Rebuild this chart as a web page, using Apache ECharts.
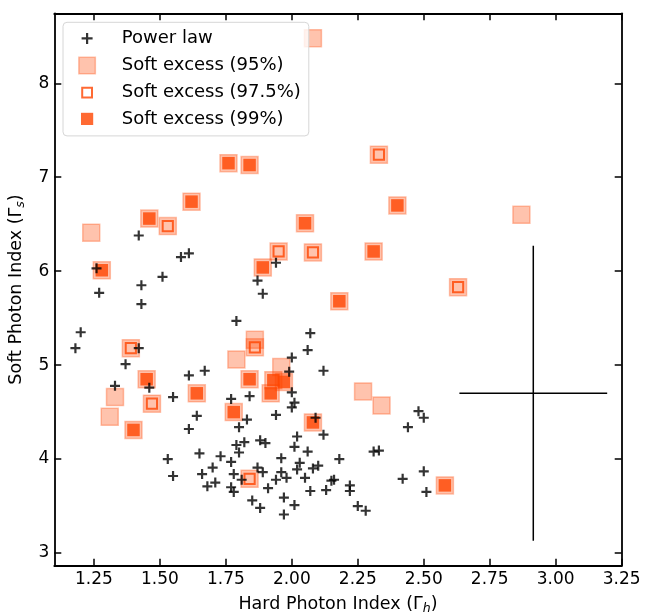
<!DOCTYPE html>
<html>
<head>
<meta charset="utf-8">
<script src="https://cdn.jsdelivr.net/npm/echarts@6/dist/echarts.min.js"></script>
<style>
html,body{margin:0;padding:0;background:#fff;}
#chart{width:654px;height:614px;}
</style>
</head>
<body>
<div id="chart"></div>
<script>
// ---- data ----
const xTickValues = [1.25, 1.50, 1.75, 2.00, 2.25, 2.50, 2.75, 3.00, 3.25];
const yTickValues = [3, 4, 5, 6, 7, 8];

// Power law fits [hard index, soft index]
const powerLaw = [
  [1.42,6.38],[1.26,6.03],[1.27,5.77],[1.58,6.15],[1.61,6.19],[1.51,5.94],[1.43,5.85],[1.43,5.65],
  [1.79,5.47],[1.87,5.90],[1.89,5.76],[1.94,6.09],[1.20,5.35],[1.18,5.18],[1.42,5.18],[1.37,5.01],
  [1.33,4.78],[1.46,4.76],[1.55,4.66],[1.61,4.89],[1.67,4.94],[1.77,4.64],[1.84,4.67],[1.83,4.42],
  [1.80,4.34],[1.64,4.46],[1.61,4.32],[1.88,4.20],[1.90,4.17],[1.82,4.18],[1.79,4.15],[1.80,4.07],
  [1.77,3.97],[1.73,4.03],[1.70,3.91],[1.66,3.84],[1.68,3.71],[1.71,3.75],[1.78,3.84],[1.77,3.70],
  [1.78,3.65],[1.81,3.78],[1.87,3.91],[1.89,3.86],[1.85,3.56],[1.88,3.48],[1.53,4.00],[1.55,3.82],
  [1.65,4.06],[2.07,5.34],[2.06,5.16],[2.00,5.08],[1.99,4.93],[2.12,4.94],[2.00,4.71],[2.01,4.60],
  [2.00,4.55],[1.94,4.47],[2.09,4.44],[2.12,4.26],[2.02,4.24],[2.01,4.13],[2.06,4.08],[2.18,4.00],
  [1.96,4.01],[2.03,3.96],[2.02,3.89],[2.10,3.93],[2.08,3.90],[1.96,3.86],[1.98,3.80],[1.94,3.78],
  [2.05,3.80],[1.91,3.69],[2.07,3.66],[2.13,3.67],[2.15,3.77],[2.16,3.78],[2.22,3.72],[2.22,3.66],
  [1.97,3.59],[2.01,3.51],[1.97,3.41],[2.25,3.50],[2.28,3.45],[2.31,4.08],[2.33,4.09],[2.42,3.79],
  [2.50,3.87],[2.51,3.65],[2.44,4.34],[2.48,4.51],[2.50,4.44]
];

// Soft excess significant only at 95%
const softExcess95Only = [
  [2.08,8.48],[1.24,6.41],[2.87,6.60],[1.33,4.66],[1.31,4.45],
  [1.79,5.06],[1.86,5.27],[1.96,4.98],[2.27,4.72],[2.34,4.57]
];
// Soft excess at 97.5%
const softExcess975 = [
  [2.33,7.24],[1.53,6.48],[1.95,6.21],[2.08,6.20],[2.63,5.83],
  [1.39,5.18],[1.47,4.59],[1.86,5.19],[1.84,3.79]
];
// Soft excess at 99%
const softExcess99 = [
  [1.76,7.15],[1.84,7.13],[2.40,6.70],[1.62,6.74],[1.46,6.56],[2.05,6.51],[2.31,6.21],
  [1.89,6.04],[2.18,5.68],[1.28,6.01],[1.45,4.85],[1.40,4.31],[1.64,4.70],[1.78,4.50],
  [1.84,4.85],[2.08,4.39],[2.58,3.72],[1.93,4.84],[1.97,4.82],[1.92,4.70]
];

// Representative error bar
const errCenter = [2.915, 4.70];
const errHalfX = 0.28;
const errHalfY = 1.57;

const legendNames = ['Power law', 'Soft excess (95%)', 'Soft excess (97.5%)', 'Soft excess (99%)'];

// ---- chart ----
const FONT = 'DejaVu Sans';
const ORANGE = '#ff4500';
const LIGHT = 'rgba(255,69,0,0.4)';

const chart = echarts.init(document.getElementById('chart'), null, {renderer: 'canvas'});

const axisCommon = {
  type: 'value',
  axisLine: {show: true, onZero: false, lineStyle: {color: '#000', width: 1.8}},
  splitLine: {show: false}
};

const option = {
  animation: false,
  backgroundColor: '#fff',
  grid: {left: 54.3, right: 32.3, top: 13.3, bottom: 48.3, containLabel: false, outerBoundsMode: 'none'},
  xAxis: [
    Object.assign({}, axisCommon, {
      position: 'bottom', min: 1.1, max: 3.25,
      axisTick: {show: true, inside: true, length: 7, lineStyle: {color: '#000', width: 1.5}, customValues: xTickValues},
      axisLabel: {show: true, customValues: xTickValues, margin: 5, color: '#000', fontFamily: FONT, fontSize: 17,
        formatter: v => v.toFixed(2)},
      name: '{t|Hard Photon Index (Γ}{s|h}{t|)}',
      nameLocation: 'middle', nameGap: 28,
      nameTextStyle: {rich: {
        t: {fontFamily: FONT, fontSize: 17.5, color: '#000'},
        s: {fontFamily: FONT, fontSize: 12.5, fontStyle: 'italic', color: '#000', padding: [9, 0, 0, 0]}
      }}
    }),
    Object.assign({}, axisCommon, {
      position: 'top', min: 1.1, max: 3.25,
      axisTick: {show: true, inside: true, length: 7, lineStyle: {color: '#000', width: 1.5}, customValues: xTickValues},
      axisLabel: {show: false}
    })
  ],
  yAxis: [
    Object.assign({}, axisCommon, {
      position: 'left', min: 2.865, max: 8.745,
      axisTick: {show: true, inside: true, length: 7, lineStyle: {color: '#000', width: 1.5}, customValues: yTickValues},
      axisLabel: {show: true, customValues: yTickValues, margin: 5, color: '#000', fontFamily: FONT, fontSize: 17},
      name: '{t|Soft Photon Index (Γ}{s|s}{t|)}',
      nameLocation: 'middle', nameGap: 22, nameRotate: 90,
      nameTextStyle: {rich: {
        t: {fontFamily: FONT, fontSize: 17.5, color: '#000'},
        s: {fontFamily: FONT, fontSize: 12.5, fontStyle: 'italic', color: '#000', padding: [9, 0, 0, 0]}
      }}
    }),
    Object.assign({}, axisCommon, {
      position: 'right', min: 2.865, max: 8.745,
      axisTick: {show: true, inside: true, length: 7, lineStyle: {color: '#000', width: 1.5}, customValues: yTickValues},
      axisLabel: {show: false}
    })
  ],
  legend: {
    show: true,
    orient: 'vertical',
    left: 63, top: 22.3,
    padding: [6, 8, 8, 14],
    itemWidth: 24, itemHeight: 18, itemGap: 7.3,
    backgroundColor: 'rgba(255,255,255,0.8)',
    borderColor: '#d6d6d6', borderWidth: 1, borderRadius: 4,
    selectedMode: false,
    symbolKeepAspect: true,
    textStyle: {fontFamily: FONT, fontSize: 18, lineHeight: 18, color: '#000', padding: [0, 0, 0, 17.7]},
    data: [
      {name: legendNames[0], icon: 'path://M0,0M18,18M3.5,9L14.5,9M9,3.5L9,14.5',
        itemStyle: {color: 'rgba(0,0,0,0)', borderColor: '#000', borderWidth: 2.2}},
      {name: legendNames[1], icon: 'path://M0,0M18,18M0.75,0.75L17.25,0.75L17.25,17.25L0.75,17.25Z',
        itemStyle: {color: LIGHT, borderColor: LIGHT, borderWidth: 1.5}},
      {name: legendNames[2], icon: 'path://M0,0M18,18M4.1,4.1L13.9,4.1L13.9,13.9L4.1,13.9Z',
        itemStyle: {color: 'rgba(0,0,0,0)', borderColor: ORANGE, borderWidth: 2}},
      {name: legendNames[3], icon: 'path://M0,0M18,18M2.9,2.9L15.1,2.9L15.1,15.1L2.9,15.1Z',
        itemStyle: {color: ORANGE, borderWidth: 0}}
    ]
  },
  series: [
    {
      name: legendNames[1], type: 'scatter', z: 2,
      data: softExcess95Only.concat(softExcess975, softExcess99),
      symbol: 'rect', symbolSize: 17,
      itemStyle: {color: LIGHT, borderColor: LIGHT, borderWidth: 1.5},
      emphasis: {disabled: true}, silent: true
    },
    {
      name: legendNames[2], type: 'scatter', z: 3,
      data: softExcess975,
      symbol: 'rect', symbolSize: 10.2,
      itemStyle: {color: 'rgba(0,0,0,0)', borderColor: ORANGE, borderWidth: 2},
      emphasis: {disabled: true}, silent: true
    },
    {
      name: legendNames[3], type: 'scatter', z: 3,
      data: softExcess99,
      symbol: 'rect', symbolSize: 12.5,
      itemStyle: {color: ORANGE, borderWidth: 0},
      emphasis: {disabled: true}, silent: true
    },
    {
      name: legendNames[0], type: 'scatter', z: 5,
      data: powerLaw,
      symbol: 'path://M0,5L10,5M5,0L5,10', symbolSize: 10,
      itemStyle: {color: 'rgba(0,0,0,0)', borderColor: '#000', borderWidth: 2.2},
      emphasis: {disabled: true}, silent: true
    },
    {
      name: 'errX', type: 'line', z: 4,
      data: [[errCenter[0] - errHalfX, errCenter[1]], [errCenter[0] + errHalfX, errCenter[1]]],
      symbol: 'none', lineStyle: {color: '#000', width: 1.5}, silent: true
    },
    {
      name: 'errY', type: 'line', z: 4,
      data: [[errCenter[0], errCenter[1] - errHalfY], [errCenter[0], errCenter[1] + errHalfY]],
      symbol: 'none', lineStyle: {color: '#000', width: 1.5}, silent: true
    }
  ]
};
chart.setOption(option);
</script>
</body>
</html>
